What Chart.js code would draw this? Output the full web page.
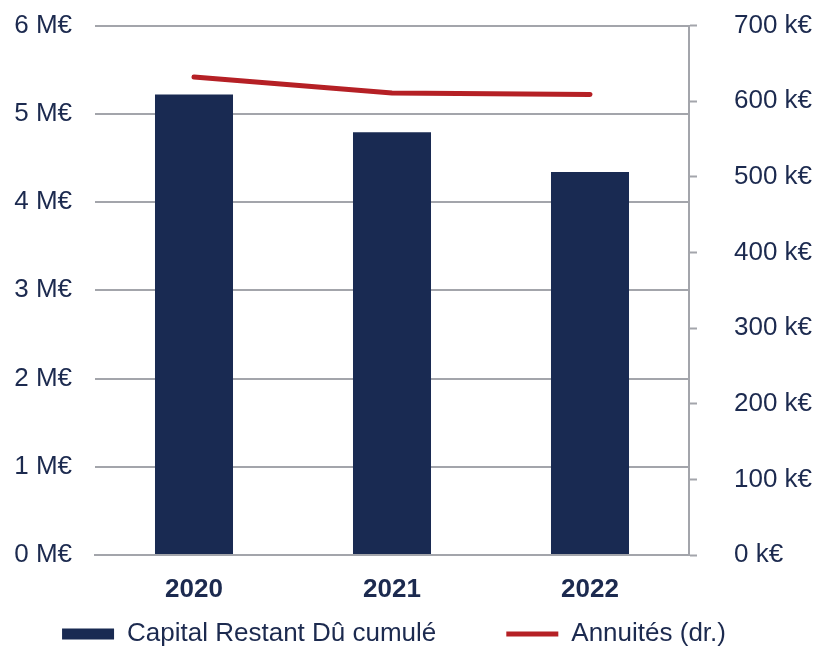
<!DOCTYPE html>
<html><head><meta charset="utf-8">
<script src="https://cdn.jsdelivr.net/npm/chart.js@4"></script>
<style>html,body{margin:0;padding:0;overflow:hidden;background:#fff}#wrap{width:818px;height:646px;position:relative;overflow:hidden}#c{position:absolute;left:0;top:-27px}</style>
</head><body><div id="wrap"><canvas id="c" width="818" height="739"></canvas></div>
<script>
const categories = ['2020', '2021', '2022'];
const capitalRestantDu = [5.22, 4.79, 4.34];   // M€ (left axis)
const annuites = [632, 611, 609];              // k€ (right axis)
const seriesNames = ['Capital Restant Dû cumulé', 'Annuités (dr.)'];
const leftTickUnit = ' M€';
const rightTickUnit = ' k€';

const TXT = '#1c2a4f';
const GRID = '#a3a5ab';
const NAVY = '#192a52';
const RED = '#b52025';
const FONT = 'Liberation Sans, Arial, sans-serif';
const LEGEND_PAD = 70;

// place the legend row (canvas is offset 27px upward by CSS)
const legendShift = {
  id: 'legendShift',
  afterLayout(chart) {
    const l = chart.legend;
    if (!l) return;
    const dy = (634 + 27 - 13 - LEGEND_PAD) - l.top;
    const dx = -15;
    l.top += dy; l.bottom += dy;
    l.left += dx; l.right += dx;
  }
};

new Chart(document.getElementById('c'), {
  data: {
    labels: categories,
    datasets: [
      {
        type: 'bar', label: seriesNames[0], data: capitalRestantDu, yAxisID: 'y',
        backgroundColor: NAVY, borderWidth: 0, order: 1,
        categoryPercentage: 1, barPercentage: 0.394
      },
      {
        type: 'line', label: seriesNames[1], data: annuites, yAxisID: 'y1',
        borderColor: RED, backgroundColor: RED, borderWidth: 5, pointRadius: 0,
        borderCapStyle: 'round', borderJoinStyle: 'round', tension: 0, order: 0
      }
    ]
  },
  plugins: [legendShift],
  options: {
    responsive: false, animation: false,
    layout: { padding: { top: 0, left: 0, right: 0, bottom: 0 } },
    plugins: {
      tooltip: { enabled: false },
      legend: {
        position: 'bottom',
        labels: {
          font: { family: FONT, size: 26 }, color: TXT,
          usePointStyle: true, pointStyleWidth: 52, boxHeight: 11, padding: LEGEND_PAD,
          sort: (a, b) => a.datasetIndex - b.datasetIndex,
          generateLabels: (chart) => chart.data.datasets.map((ds, i) => ({
            text: ds.label, datasetIndex: i, fontColor: TXT,
            fillStyle: ds.type === 'bar' ? NAVY : RED,
            strokeStyle: ds.type === 'bar' ? NAVY : RED,
            lineWidth: ds.type === 'bar' ? 0 : 5,
            pointStyle: ds.type === 'bar' ? 'rect' : 'line',
            hidden: false
          }))
        }
      }
    },
    scales: {
      x: {
        grid: { display: false },
        border: { display: true, color: GRID, width: 2 },
        ticks: { font: { family: FONT, size: 26, weight: 'bold' }, color: TXT, padding: 11 },
        afterFit: (s) => { s.height = 51; }
      },
      y: {
        position: 'left', min: 0, max: 6,
        ticks: { stepSize: 1, callback: (v) => v + leftTickUnit, font: { family: FONT, size: 26 }, color: TXT, padding: 23 },
        grid: { color: GRID, lineWidth: 2, drawTicks: false },
        border: { display: false },
        afterFit: (s) => { s.width = 95; }
      },
      y1: {
        position: 'right', min: 0, max: 700,
        ticks: { stepSize: 100, callback: (v) => v + rightTickUnit, font: { family: FONT, size: 26 }, color: TXT, padding: 37 },
        grid: { drawOnChartArea: false, drawTicks: true, tickLength: 8, tickColor: GRID, tickWidth: 2 },
        border: { display: true, color: GRID, width: 2 },
        afterFit: (s) => { s.width = 129; }
      }
    }
  }
});
</script>
</body></html>
